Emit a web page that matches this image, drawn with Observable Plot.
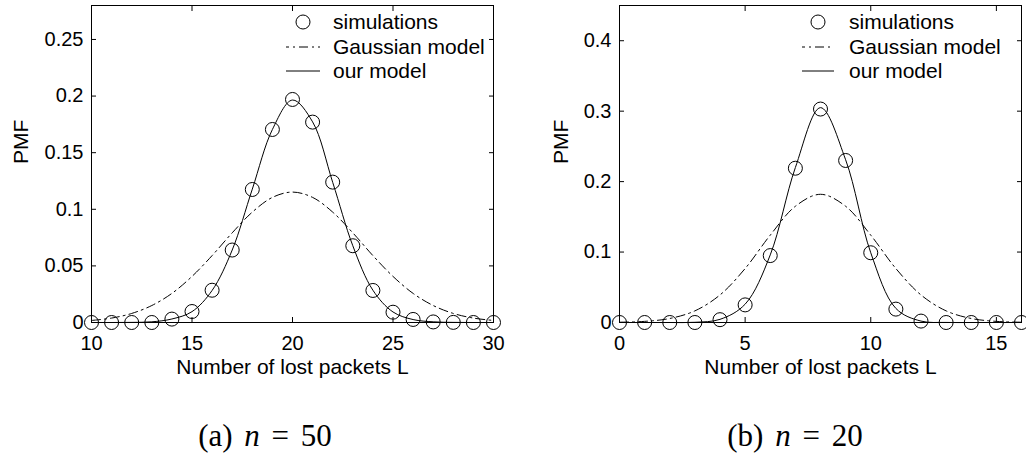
<!DOCTYPE html>
<html><head><meta charset="utf-8">
<script src="https://cdn.jsdelivr.net/npm/d3@7"></script>
<script src="https://cdn.jsdelivr.net/npm/@observablehq/plot@0.6"></script>
<style>
body{margin:0;background:#fff;}
#wrap{position:relative;width:1026px;height:457px;overflow:hidden;background:#fff}
.panel{position:absolute;top:0}
.cap{position:absolute;top:420px;width:300px;text-align:center;font-family:"Liberation Serif","DejaVu Serif",serif;font-size:31px;line-height:1;color:#000;white-space:pre;word-spacing:4px}
</style></head><body>
<div id="wrap">
  <div id="pa" class="panel" style="left:0"></div>
  <div id="pb" class="panel" style="left:513px"></div>
  <div id="ca" class="cap" style="left:115px"></div>
  <div id="cb" class="cap" style="left:645px"></div>
</div>
<script>
// ---- data: panel (a), n = 50 ----
const lossA = [10,11,12,13,14,15,16,17,18,19,20,21,22,23,24,25,26,27,28,29,30];
const simA = [0,0,0,0,0.003,0.0097,0.0285,0.064,0.1175,0.1705,0.197,0.177,0.124,0.0678,0.0283,0.0091,0.0027,0.0005,0.0001,0,0];
const gaussA = [0.0018,0.0039,0.0080,0.0150,0.0257,0.0407,0.0591,0.0792,0.0975,0.1105,0.1152,0.1105,0.0975,0.0792,0.0591,0.0407,0.0257,0.0150,0.0080,0.0039,0.0018];
const modelA = [0,0,0.0001,0.0006,0.0031,0.0096,0.0283,0.064,0.1178,0.1705,0.1965,0.1772,0.1238,0.0678,0.0285,0.0093,0.0026,0.0006,0.0001,0,0];
const xTicksA = [10,15,20,25,30];
const yTicksA = [0,0.05,0.1,0.15,0.2,0.25];

// ---- data: panel (b), n = 20 ----
const lossB = [0,1,2,3,4,5,6,7,8,9,10,11,12,13,14,15,16];
const simB = [0,0,0,0,0.004,0.025,0.095,0.219,0.303,0.230,0.099,0.019,0.002,0,0,0,0];
const gaussB = [0.0004,0.0016,0.0057,0.0165,0.0391,0.0766,0.124,0.165,0.182,0.165,0.124,0.0766,0.0391,0.0165,0.0057,0.0016,0.0004];
const modelB = [0,0,0,0.0003,0.0045,0.026,0.096,0.220,0.305,0.231,0.099,0.020,0.002,0.0001,0,0,0];
const xTicksB = [0,5,10,15];
const yTicksB = [0,0.1,0.2,0.3,0.4];

const xLabel = "Number of lost packets L";
const yLabel = "PMF";
const legendLabels = ["simulations","Gaussian model","our model"];
const captions = [["(a)","n","= 50"],["(b)","n","= 20"]];

const FONT = "'Liberation Sans', Arial, Helvetica, sans-serif";
const DASH = "9,4,2,4";

function panel(el, o) {
  const rows = o.loss.map((L, i) => ({L, sim: o.sim[i], gauss: o.gauss[i], model: o.model[i]}));
  const width = 513, height = 385;
  const plot = Plot.plot({
    width, height,
    marginLeft: o.marginLeft, marginRight: o.marginRight, marginTop: 5, marginBottom: height - 322,
    style: {fontFamily: FONT, fontSize: "20px", color: "black", background: "white", overflow: "visible"},
    x: {domain: o.xDomain, label: null},
    y: {domain: o.yDomain, label: null},
    marks: [
      Plot.line(rows, {x: "L", y: "gauss", curve: "catmull-rom", stroke: "black", strokeWidth: 1, strokeDasharray: DASH}),
      Plot.line(rows, {x: "L", y: "model", curve: "catmull-rom", stroke: "black", strokeWidth: 1}),
      Plot.dot(rows, {x: "L", y: "sim", r: 7, stroke: "black", strokeWidth: 1, fill: "none"}),
      Plot.frame({stroke: "black", strokeWidth: 1}),
      Plot.axisX({anchor: "bottom", ticks: o.xTicks, tickSize: -5, tickPadding: 18, tickFormat: d => String(d), label: null}),
      Plot.axisX({anchor: "top", ticks: o.xTicks, tickSize: -5, tickFormat: () => "", label: null}),
      Plot.axisY({anchor: "left", ticks: o.yTicks, tickSize: -5, tickPadding: 13, tickFormat: d => String(d), label: null}),
      Plot.axisY({anchor: "right", ticks: o.yTicks, tickSize: -5, tickFormat: () => "", label: null}),
      Plot.text([xLabel], {text: d => d, frameAnchor: "bottom", dy: 45, fontSize: 21, lineAnchor: "middle"}),
      Plot.text([yLabel], {text: d => d, frameAnchor: "left", dx: o.pmfDx, rotate: -90, fontSize: 21, lineAnchor: "middle"})
    ]
  });
  // legend (inside the frame, top-right, no box)
  const fr = width - o.marginRight;
  const g = d3.select(plot).append("g").attr("font-family", FONT).attr("font-size", 21).attr("text-anchor", "start");
  const rowsY = [22, 47, 71];
  const sx0 = fr + o.legLine0, sx1 = fr + o.legLine1, tx = fr + o.legText;
  g.append("circle").attr("cx", (sx0 + sx1) / 2).attr("cy", rowsY[0]).attr("r", 7).attr("fill", "none").attr("stroke", "black");
  g.append("line").attr("x1", sx0).attr("x2", sx1).attr("y1", rowsY[1]).attr("y2", rowsY[1]).attr("stroke", "black").attr("stroke-width", 1).attr("stroke-dasharray", DASH).attr("stroke-dashoffset", 6);
  g.append("line").attr("x1", sx0).attr("x2", sx1).attr("y1", rowsY[2]).attr("y2", rowsY[2]).attr("stroke", "black");
  legendLabels.forEach((t, i) => {
    g.append("text").attr("x", tx).attr("y", rowsY[i]).attr("dy", "0.35em").attr("text-anchor", "start").attr("fill", "black").text(t);
  });
  document.getElementById(el).append(plot);
}

panel("pa", {loss: lossA, sim: simA, gauss: gaussA, model: modelA, xDomain: [10, 30], yDomain: [0, 0.28],
  xTicks: xTicksA, yTicks: yTicksA, marginLeft: 91, marginRight: 20, pmfDx: -70,
  legLine0: -207, legLine1: -173, legText: -160});
panel("pb", {loss: lossB, sim: simB, gauss: gaussB, model: modelB, xDomain: [0, 16], yDomain: [0, 0.45],
  xTicks: xTicksB, yTicks: yTicksB, marginLeft: 106, marginRight: 5, pmfDx: -58,
  legLine0: -219, legLine1: -187, legText: -172});

function caption(id, c) {
  const el = document.getElementById(id);
  el.append(c[0] + " ");
  const i = document.createElement("i");
  i.textContent = c[1];
  el.append(i);
  el.append(" " + c[2]);
}
caption("ca", captions[0]);
caption("cb", captions[1]);
</script>
</body></html>
